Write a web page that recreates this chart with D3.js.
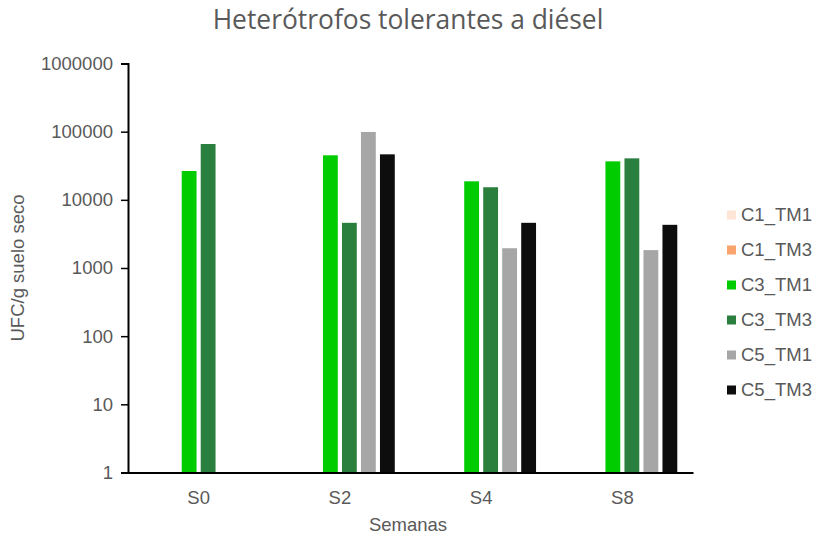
<!DOCTYPE html>
<html>
<head>
<meta charset="utf-8">
<script src="https://cdn.jsdelivr.net/npm/d3@7"></script>
<style>
  html, body { margin: 0; padding: 0; background: #fff; }
  svg { display: block; }
</style>
</head>
<body>
<svg id="chart" width="818" height="538"></svg>
<script>
// ---- Data ----
const categories = ["S0", "S2", "S4", "S8"];
const seriesNames = ["C1_TM1", "C1_TM3", "C3_TM1", "C3_TM3", "C5_TM1", "C5_TM3"];
const seriesColors = ["#FCE4D6", "#F8A46C", "#00CC00", "#2A7F3F", "#A6A6A6", "#0D0D0D"];
const C1_TM1 = [null, null, null, null];
const C1_TM3 = [null, null, null, null];
const C3_TM1 = [26500, 45000, 18700, 36700];
const C3_TM3 = [65900, 4600, 15300, 40600];
const C5_TM1 = [null, 99000, 1950, 1830];
const C5_TM3 = [null, 46500, 4600, 4300];
const seriesValues = [C1_TM1, C1_TM3, C3_TM1, C3_TM3, C5_TM1, C5_TM3];
const yTickValues = [1, 10, 100, 1000, 10000, 100000, 1000000];

const titleText = "Heterótrofos tolerantes a diésel";
const yTitle = "UFC/g suelo seco";
const xTitle = "Semanas";

// ---- Layout ----
const svg = d3.select("#chart");
const mLeft = 128, mRight = 693, mTop = 63.5, mBottom = 472.5;
const textColor = "#595959";
const font = "Arial, 'Liberation Sans', sans-serif";

const x0 = d3.scaleBand().domain(categories).range([mLeft, mRight]).padding(0);
const x1 = d3.scaleBand().domain(seriesNames).range([-57, 57]).paddingInner(0.22).paddingOuter(0.11);
const y = d3.scaleLog().domain([1, 1000000]).range([mBottom, mTop]);

// Bars
const flat = [];
seriesNames.forEach((s, si) => {
  categories.forEach((c, ci) => {
    const v = seriesValues[si][ci];
    if (v != null) flat.push({ s, c, v, color: seriesColors[si] });
  });
});
svg.append("g").selectAll("rect").data(flat).join("rect")
  .attr("x", d => x0(d.c) + x0.bandwidth() / 2 + x1(d.s))
  .attr("width", x1.bandwidth())
  .attr("y", d => y(d.v))
  .attr("height", d => y(1) - y(d.v))
  .attr("fill", d => d.color);

// Y axis
const yAxis = d3.axisLeft(y).tickValues(yTickValues).tickFormat(d3.format("d")).tickSizeOuter(0).tickSize(7).tickPadding(8);
const gy = svg.append("g").attr("transform", `translate(${mLeft},0)`).call(yAxis);
gy.select(".domain").attr("stroke", "#000").attr("stroke-width", 2);
gy.selectAll(".tick line").attr("stroke", "#000").attr("stroke-width", 1.5);
gy.selectAll(".tick text").attr("fill", textColor).attr("font-family", font).attr("font-size", "18.5px");

// X axis
const xAxis = d3.axisBottom(x0).tickSize(0).tickPadding(18).tickSizeOuter(0);
const gx = svg.append("g").attr("transform", `translate(0,${mBottom})`).call(xAxis);
gx.select(".domain").attr("stroke", "#000").attr("stroke-width", 2.2);
gx.selectAll(".tick text").attr("fill", textColor).attr("font-family", font).attr("font-size", "18.5px");

// Titles
svg.append("text").attr("x", 408).attr("y", 29).attr("text-anchor", "middle")
  .attr("font-family", "'Open Sans', 'Noto Sans', sans-serif").attr("font-size", "26.4px")
  .attr("fill", textColor).text(titleText);
svg.append("text").attr("x", 408).attr("y", 531).attr("text-anchor", "middle")
  .attr("font-family", font).attr("font-size", "18.5px").attr("fill", textColor).text(xTitle);
svg.append("text").attr("transform", "translate(24,268) rotate(-90)").attr("text-anchor", "middle")
  .attr("font-family", font).attr("font-size", "18.5px").attr("fill", textColor).text(yTitle);

// Legend
const lg = svg.append("g");
const legendY = d3.scalePoint().domain(seriesNames).range([215, 390]);
seriesNames.forEach((s, i) => {
  const yy = legendY(s);
  lg.append("rect").attr("x", 727).attr("y", yy - 4.5).attr("width", 9).attr("height", 9).attr("fill", seriesColors[i]);
  lg.append("text").attr("x", 741).attr("y", yy).attr("dy", "0.35em")
    .attr("font-family", font).attr("font-size", "18.5px").attr("fill", textColor).text(s);
});
</script>
</body>
</html>
